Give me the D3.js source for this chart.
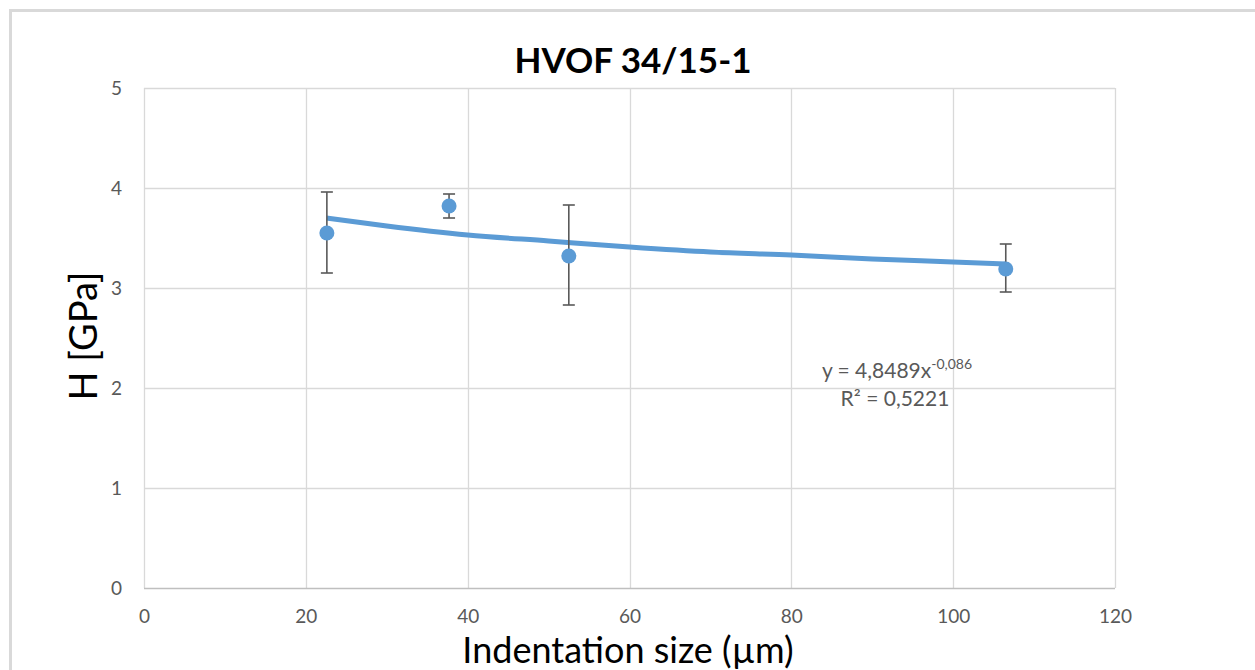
<!DOCTYPE html>
<html>
<head>
<meta charset="utf-8">
<script src="https://cdn.jsdelivr.net/npm/d3@7"></script>
<style>
  html, body { margin: 0; padding: 0; background: #fff; }
  svg { display: block; }
</style>
</head>
<body>
<script>
// ---- data ----
const xValues   = [22.6, 37.7, 52.5, 106.5];
const hValues   = [3.55, 3.82, 3.32, 3.19];
const errUpper  = [3.96, 3.94, 3.83, 3.44];
const errLower  = [3.15, 3.70, 2.83, 2.96];
const trendX    = [22.6, 30, 40, 50, 60, 70, 80, 90, 100, 106.5];
const trendY    = [3.70, 3.62, 3.53, 3.47, 3.41, 3.36, 3.33, 3.29, 3.26, 3.24];
const xTicks    = [0, 20, 40, 60, 80, 100, 120];
const yTicks    = [0, 1, 2, 3, 4, 5];
const titleText = "HVOF 34/15-1";
const xTitle    = "Indentation size (µm)";
const yTitle    = "H [GPa]";

const W = 1255, H = 670;
const plot = { left: 144, top: 88, right: 1115, bottom: 588 };
const font = "Lato, 'Open Sans', sans-serif";

const svg = d3.select("body").append("svg").attr("width", W).attr("height", H);

// outer chart border (top and left visible)
svg.append("rect").attr("x", 10.5).attr("y", 10.5).attr("width", W + 20).attr("height", H + 20)
  .attr("fill", "none").attr("stroke", "#d9d9d9").attr("stroke-width", 3);

const x = d3.scaleLinear().domain([0, 120]).range([plot.left, plot.right]);
const y = d3.scaleLinear().domain([0, 5]).range([plot.bottom, plot.top]);

// gridlines
const g = svg.append("g");
g.selectAll(".vgrid").data(xTicks).join("line")
  .attr("x1", d => Math.round(x(d)) + 0.5).attr("x2", d => Math.round(x(d)) + 0.5)
  .attr("y1", plot.top).attr("y2", plot.bottom)
  .attr("stroke", "#d9d9d9").attr("stroke-width", 1.3);
g.selectAll(".hgrid").data(yTicks).join("line")
  .attr("x1", plot.left).attr("x2", plot.right)
  .attr("y1", d => Math.round(y(d)) + 0.5).attr("y2", d => Math.round(y(d)) + 0.5)
  .attr("stroke", d => d === 0 ? "#bfbfbf" : "#d9d9d9").attr("stroke-width", 1.3);

// axes (labels only)
const xAxis = d3.axisBottom(x).tickValues(xTicks).tickFormat(d3.format("d")).tickSize(0).tickPadding(0);
const yAxis = d3.axisLeft(y).tickValues(yTicks).tickFormat(d3.format("d")).tickSize(0).tickPadding(0);
const xa = svg.append("g").attr("transform", `translate(0,${plot.bottom + 28})`).call(xAxis);
xa.select(".domain").remove();
xa.selectAll("text").attr("dy", "0.35em").attr("y", 0)
  .style("font-family", font).style("font-size", "19px").attr("fill", "#595959");
const ya = svg.append("g").attr("transform", `translate(${plot.left - 22},0)`).call(yAxis);
ya.select(".domain").remove();
ya.selectAll("text").attr("dy", "0.35em").attr("x", 0)
  .style("font-family", font).style("font-size", "19px").attr("fill", "#595959");

// trendline
const line = d3.line().x(d => x(d[0])).y(d => y(d[1])).curve(d3.curveMonotoneX);
svg.append("path").datum(trendX.map((d, i) => [d, trendY[i]]))
  .attr("d", line).attr("fill", "none").attr("stroke", "#5b9bd5").attr("stroke-width", 5);

// error bars
const eb = svg.append("g").attr("stroke", "#595959").attr("stroke-width", 1.6);
xValues.forEach((xv, i) => {
  const cx = x(xv);
  eb.append("line").attr("x1", cx).attr("x2", cx).attr("y1", y(errUpper[i])).attr("y2", y(errLower[i]));
  eb.append("line").attr("x1", cx - 6).attr("x2", cx + 6).attr("y1", y(errUpper[i])).attr("y2", y(errUpper[i]));
  eb.append("line").attr("x1", cx - 6).attr("x2", cx + 6).attr("y1", y(errLower[i])).attr("y2", y(errLower[i]));
});

// points
svg.append("g").selectAll("circle").data(xValues).join("circle")
  .attr("cx", d => x(d)).attr("cy", (d, i) => y(hValues[i])).attr("r", 7.5)
  .attr("fill", "#5b9bd5");

// equation text
const eq = svg.append("text").attr("x", 897).attr("y", 378).attr("text-anchor", "middle")
  .style("font-family", font).style("font-size", "21px").attr("fill", "#595959");
eq.append("tspan").text("y = 4,8489x");
eq.append("tspan").attr("dy", -9).style("font-size", "14px").text("-0,086");
svg.append("text").attr("x", 895).attr("y", 406).attr("text-anchor", "middle")
  .style("font-family", font).style("font-size", "21px").attr("fill", "#595959")
  .text("R² = 0,5221");

// title
svg.append("text").attr("x", 633).attr("y", 73).attr("text-anchor", "middle")
  .style("font-family", font).style("font-size", "35px").style("font-weight", "bold")
  .attr("fill", "#000").text(titleText);

// axis titles
svg.append("text").attr("x", 628).attr("y", 663).attr("text-anchor", "middle")
  .style("font-family", font).style("font-size", "36px").attr("fill", "#000").text(xTitle);
svg.append("text").attr("transform", `translate(97,${336}) rotate(-90)`)
  .attr("text-anchor", "middle")
  .style("font-family", font).style("font-size", "38px").attr("fill", "#000").text(yTitle);
</script>
</body>
</html>
